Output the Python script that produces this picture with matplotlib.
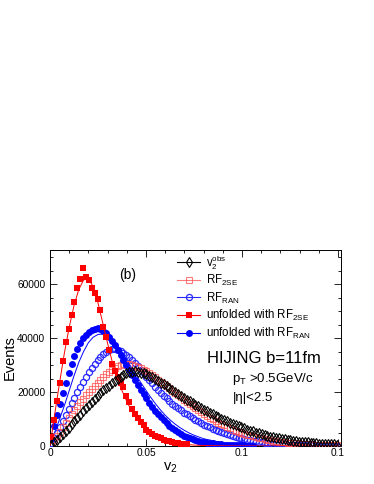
import matplotlib
matplotlib.use("Agg")
import matplotlib.pyplot as plt
import numpy as np
from matplotlib.ticker import MultipleLocator

plt.rcParams['font.family'] = ['Liberation Sans', 'DejaVu Sans']
plt.rcParams['mathtext.fontset'] = 'custom'
plt.rcParams['mathtext.rm'] = 'Liberation Sans'
plt.rcParams['mathtext.it'] = 'Liberation Sans:italic'
plt.rcParams['mathtext.bf'] = 'Liberation Sans:bold'

# histogram bin width in v2 (bins start at 0)
bin_width = 0.0015

# observed v2 distribution (events per bin)
v2_obs = [400, 1400, 2400, 3500, 4600, 5700, 6800, 8000, 9200, 10400,
          11600, 12800, 14000, 15200, 16300, 17400, 18600, 19600, 20600, 21500,
          22400, 23300, 24100, 24900, 25600, 26300, 26900, 27300, 27500, 27600,
          27500, 27200, 26900, 26500, 26000, 25400, 24800, 24200, 23500, 22800,
          22100, 21400, 20700, 20000, 19300, 18600, 17900, 17200, 16600, 15900,
          15300, 14700, 14100, 13500, 12900, 12300, 11700, 11100, 10600, 10100,
          9600, 9100, 8600, 8100, 7700, 7300, 6900, 6500, 6100, 5700,
          5400, 5000, 4700, 4400, 4100, 3800, 3500, 3300, 3100, 2900,
          2700, 2500, 2300, 2100, 1950, 1800, 1650, 1500, 1400, 1300,
          1200, 1100, 1000, 900, 850, 800, 700, 650, 600, 550]

# response function, 2 sub-events
rf_2se = [700, 2200, 3700, 5200, 6900, 8600, 10200, 11800, 13300, 14800,
          16200, 17500, 18800, 20000, 21100, 22200, 23300, 24400, 25500, 26500,
          27400, 28300, 29000, 29700, 30100, 30300, 30400, 30300, 30100, 29800,
          29400, 28900, 28300, 27700, 27000, 26200, 25400, 24600, 23800, 23000,
          22200, 21400, 20500, 19700, 18900, 18000, 17200, 16400, 15600, 14800,
          14000, 13300, 12600, 11900, 11200, 10500, 9900, 9300, 8700, 8100,
          7600, 7100, 6600, 6100, 5700, 5300, 4900, 4500, 4200, 3900,
          3600, 3300, 3000, 2800, 2600, 2400, 2200, 2000, 1800, 1650,
          1500, 1380, 1260, 1150, 1050, 950, 860, 780, 700, 640,
          580, 520, 470, 420, 380, 340, 300, 270, 240, 220]

# response function, random sub-events
rf_ran = [1000, 3000, 5000, 6900, 9100, 11400, 13600, 15800, 17900, 20000,
          22000, 23800, 25600, 27300, 28900, 30400, 31800, 33000, 34000, 34900,
          35500, 35800, 35900, 35700, 35200, 34600, 33800, 32900, 31900, 30800,
          29600, 28300, 27000, 25700, 24400, 23200, 22000, 20900, 19800, 18700,
          17600, 16600, 15700, 14800, 14000, 13200, 12400, 11700, 11000, 10400,
          9700, 9100, 8500, 7900, 7400, 6900, 6400, 5900, 5500, 5100,
          4700, 4300, 4000, 3700, 3400, 3100, 2800, 2600, 2300, 2100,
          1900, 1700, 1500, 1350, 1200, 1080, 960, 860, 770, 690,
          620, 560, 500, 450, 400, 360, 320, 290, 260, 230,
          210, 190, 170, 150, 140, 130, 120, 110, 100, 90]

# unfolded with RF_2SE
unf_2se = [3500, 9800, 16500, 23500, 31500, 38500, 43500, 48500, 53500, 58500,
           62000, 66000, 62500, 61500, 58500, 56500, 54500, 50500, 44000, 40500,
           35500, 30500, 27800, 25500, 23500, 21800, 18500, 16200, 13800, 12000,
           10300, 9000, 7600, 6100, 5100, 4400, 3800, 3300, 2800, 2400,
           2000, 1700, 1450, 1200, 1000, 850, 700, 600]

# unfolded with RF_RAN
unf_ran = [2500, 7500, 11500, 15500, 19500, 23500, 27200, 30500, 33500, 36000,
           38200, 39900, 41200, 42200, 42900, 43400, 43600, 43300, 42600, 41700,
           40500, 39000, 37400, 35600, 33700, 31800, 29900, 28000, 26200, 24400,
           22600, 20900, 19200, 17600, 16000, 14500, 13100, 11800, 10600, 9500,
           8500, 7500, 6600, 5800, 5100, 4400, 3800, 3300, 2900, 2500,
           2200, 1900, 1650, 1450, 1250, 1100, 950, 830, 720, 620,
           540, 470, 410, 360, 310, 270, 230, 200, 170, 150,
           130]

# smooth curves drawn through the unfolded results
curve_v2 = [0, 0.0025, 0.005, 0.0075, 0.01, 0.0125, 0.015, 0.0175, 0.02, 0.0225,
            0.025, 0.0275, 0.03, 0.0325, 0.035, 0.0375, 0.04, 0.0425, 0.045, 0.0475,
            0.05, 0.0525, 0.055, 0.0575, 0.06, 0.0625, 0.065, 0.0675, 0.07, 0.0725,
            0.075, 0.08, 0.09, 0.1, 0.11, 0.12, 0.13, 0.14, 0.15]
curve_2se = [0, 12000, 23500, 34500, 44000, 52000, 58000, 61500, 62000, 59000,
             53000, 45500, 38000, 31000, 25000, 20500, 16500, 13000, 10200, 8000,
             6200, 4800, 3700, 2800, 2100, 1600, 1200, 900, 650, 480,
             350, 180, 50, 15, 0, 0, 0, 0, 0]
curve_ran = [0, 5000, 10000, 15000, 20500, 26000, 31000, 35000, 38300, 40300,
             41300, 41500, 40800, 39300, 37200, 34700, 31900, 29000, 26100, 23300,
             20600, 18000, 15600, 13400, 11400, 9700, 8200, 6900, 5800, 4800,
             4000, 2700, 1200, 500, 200, 80, 30, 10, 0]

x_ticks = [0, 0.05, 0.1, 0.15]
x_tick_labels = ['0', '0.05', '0.1', '0.1']
y_ticks = [0, 20000, 40000, 60000]


def centers(vals):
    return (np.arange(len(vals)) + 0.5) * bin_width


fig = plt.figure(figsize=(3.74, 4.84), dpi=100)
ax = fig.add_axes([0.1337, 0.0785, 0.7781, 0.405])

red_light = '#ff5050'
styles = {
    'obs': dict(color='black', marker='d', ms=5.0, mfc='none', mew=0.8),
    '2se': dict(color=red_light, marker='s', ms=4.2, mfc='none', mew=0.8, alpha=0.75),
    'ran': dict(color='#2a2aff', marker='o', ms=4.4, mfc='none', mew=0.9),
    'u2se': dict(color='#ff0000', marker='s', ms=4.0, mfc='#ff0000', mew=0),
    'uran': dict(color='#0000ff', marker='o', ms=5.0, mfc='#0000ff', mew=0),
}

ax.plot(curve_v2, curve_ran, color='#0000ff', lw=0.7, zorder=2)
ax.plot(centers(rf_ran), rf_ran, ls='none', zorder=3, **styles['ran'])
ax.plot(centers(rf_2se), rf_2se, ls='none', zorder=4, **styles['2se'])
ax.plot(centers(unf_ran), unf_ran, ls='none', zorder=5, **styles['uran'])
ax.plot(centers(unf_2se), unf_2se, ls='none', zorder=6, **styles['u2se'])
ax.plot(curve_v2, curve_2se, color='#ff0000', lw=0.7, zorder=6.5)
ax.plot(centers(v2_obs), v2_obs, ls='none', zorder=7, **styles['obs'])

ax.set_xlim(0, 0.1516)
ax.set_ylim(0, 72600)
ax.set_xticks(x_ticks)
ax.set_xticklabels(x_tick_labels)
ax.set_yticks(y_ticks)
ax.set_yticklabels([str(v) for v in y_ticks])
ax.xaxis.set_minor_locator(MultipleLocator(0.01))
ax.yaxis.set_minor_locator(MultipleLocator(5000))
ax.tick_params(which='both', direction='in', top=True, right=True, width=0.6,
               labelsize=7.3, colors='black')
ax.tick_params(which='major', length=5)
ax.tick_params(which='minor', length=2.5)
ax.tick_params(axis='x', pad=1.5)
ax.tick_params(axis='y', pad=3.5)
for s in ax.spines.values():
    s.set_linewidth(0.7)

ax.set_xlabel('v$_{2}$', fontsize=10.5)
ax.xaxis.set_label_coords(0.413, -0.075)
ax.set_ylabel('Events', fontsize=10.5)
ax.yaxis.set_label_coords(-0.115, 0.449)

# legend drawn by hand in axes coordinates
legend_rows = [
    ('v$_{2}^{\\mathrm{obs}}$', 'obs'),
    ('RF$_{\\mathrm{2SE}}$', '2se'),
    ('RF$_{\\mathrm{RAN}}$', 'ran'),
    ('unfolded with RF$_{\\mathrm{2SE}}$', 'u2se'),
    ('unfolded with RF$_{\\mathrm{RAN}}$', 'uran'),
]
row_y = [0.937, 0.847, 0.758, 0.668, 0.579]
for (label, key), yy in zip(legend_rows, row_y):
    st = dict(styles[key])
    ax.plot([0.436, 0.515], [yy, yy], transform=ax.transAxes, color=st['color'],
            lw=0.8, alpha=st.get('alpha', 1), clip_on=False, zorder=8)
    st.pop('color')
    ax.plot([0.476], [yy], transform=ax.transAxes, ls='none', clip_on=False,
            zorder=9, color=styles[key]['color'], **st)
    ax.text(0.536, yy - 0.022, label, transform=ax.transAxes, fontsize=8.3,
            va='baseline', ha='left')

ax.text(0.268, 0.872, '(b)', transform=ax.transAxes, fontsize=10,
        ha='center', va='center')
ax.text(0.54, 0.425, 'HIJING b=11fm', transform=ax.transAxes, fontsize=12,
        ha='left', va='baseline')
ax.text(0.627, 0.328, 'p$_{\\mathrm{T}}$ >0.5GeV/c', transform=ax.transAxes,
        fontsize=9.5, ha='left', va='baseline')
ax.text(0.63, 0.23, '|η|<2.5', transform=ax.transAxes, fontsize=9.5,
        ha='left', va='baseline')

fig.savefig('out.png', dpi=100)
